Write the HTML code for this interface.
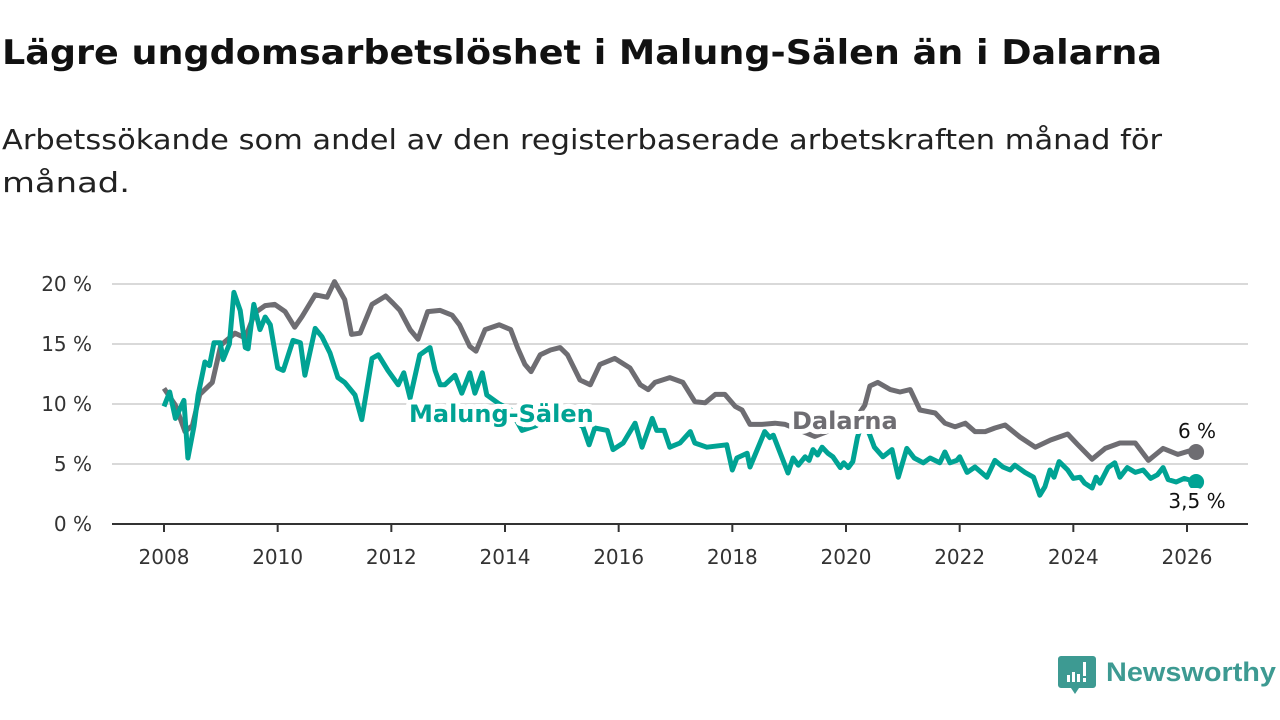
<!DOCTYPE html>
<html><head><meta charset="utf-8"><style>
html,body{margin:0;padding:0;background:#fff;}
svg{display:block;font-family:"DejaVu Sans","Liberation Sans",sans-serif;}
</style></head><body>
<svg id="chart" width="1280" height="720" viewBox="0 0 1280 720" xmlns="http://www.w3.org/2000/svg">
<text x="2" y="64" font-size="34" font-weight="bold" fill="#111" textLength="1160" lengthAdjust="spacingAndGlyphs">Lägre ungdomsarbetslöshet i Malung-Sälen än i Dalarna</text>
<text x="2" y="149" font-size="28" fill="#222" textLength="1160" lengthAdjust="spacingAndGlyphs">Arbetssökande som andel av den registerbaserade arbetskraften månad för</text>
<text x="2" y="192" font-size="28" fill="#222" textLength="128" lengthAdjust="spacingAndGlyphs">månad.</text>
<g id="grid"></g><g id="xaxis"></g><g id="lines"></g><g id="labels"></g>
<g>
<path d="M1061,656 h32 a3,3 0 0 1 3,3 v26 a3,3 0 0 1 -3,3 h-14 l-4,6 l-4,-6 h-10 a3,3 0 0 1 -3,-3 v-26 a3,3 0 0 1 3,-3z" fill="#3d9a92"/>
<rect x="1067" y="675" width="3" height="7" fill="#fff"/><rect x="1072" y="672" width="3" height="10" fill="#fff"/><rect x="1077" y="674" width="3" height="8" fill="#fff"/><rect x="1083" y="662" width="3" height="14" fill="#fff"/><rect x="1083" y="678" width="3" height="4" fill="#fff"/>
<text x="1106" y="681" font-size="27" font-weight="bold" fill="#3d9a92" font-family="Liberation Sans, sans-serif" textLength="170" lengthAdjust="spacingAndGlyphs">Newsworthy</text>
</g>
</svg>
<script>
const yTicks=[0,5,10,15,20];
const xTicks=[2008,2010,2012,2014,2016,2018,2020,2022,2024,2026];
const dalT=[2008.0,2008.2,2008.37,2008.5,2008.63,2008.85,2009.0,2009.25,2009.43,2009.6,2009.78,2009.95,2010.13,2010.3,2010.43,2010.66,2010.87,2011.0,2011.18,2011.3,2011.45,2011.66,2011.9,2012.03,2012.15,2012.33,2012.47,2012.64,2012.86,2013.07,2013.2,2013.38,2013.49,2013.65,2013.9,2014.1,2014.22,2014.35,2014.46,2014.62,2014.8,2014.97,2015.1,2015.32,2015.5,2015.67,2015.93,2016.2,2016.38,2016.52,2016.64,2016.9,2017.13,2017.34,2017.52,2017.7,2017.87,2018.05,2018.17,2018.31,2018.52,2018.75,2018.93,2019.19,2019.45,2019.72,2020.0,2020.16,2020.33,2020.42,2020.56,2020.78,2020.95,2021.13,2021.3,2021.57,2021.74,2021.92,2022.1,2022.27,2022.45,2022.62,2022.8,2023.06,2023.33,2023.6,2023.9,2024.08,2024.33,2024.56,2024.82,2025.09,2025.32,2025.58,2025.84,2026.05,2026.16];
const dalV=[11.3,9.9,7.7,8.2,10.8,11.8,14.9,15.9,15.5,17.6,18.2,18.3,17.7,16.4,17.3,19.1,18.9,20.2,18.7,15.8,15.9,18.3,19.0,18.4,17.8,16.2,15.4,17.7,17.8,17.4,16.6,14.8,14.4,16.2,16.6,16.2,14.7,13.3,12.7,14.1,14.5,14.7,14.1,12.0,11.6,13.3,13.8,13.0,11.6,11.2,11.8,12.2,11.8,10.2,10.1,10.8,10.8,9.8,9.5,8.3,8.3,8.4,8.3,7.8,7.3,7.8,8.0,8.7,9.9,11.5,11.8,11.2,11.0,11.2,9.5,9.25,8.4,8.1,8.4,7.7,7.7,8.0,8.25,7.25,6.4,7.0,7.5,6.6,5.4,6.3,6.75,6.75,5.3,6.3,5.8,6.1,6.0];
const malT=[2008.0,2008.1,2008.2,2008.35,2008.42,2008.53,2008.6,2008.72,2008.8,2008.88,2008.99,2009.04,2009.15,2009.23,2009.34,2009.43,2009.48,2009.58,2009.69,2009.78,2009.87,2010.0,2010.1,2010.27,2010.4,2010.48,2010.66,2010.78,2010.92,2011.06,2011.18,2011.36,2011.48,2011.66,2011.77,2011.94,2012.12,2012.22,2012.33,2012.5,2012.68,2012.77,2012.86,2012.94,2013.03,2013.12,2013.24,2013.38,2013.47,2013.6,2013.68,2013.9,2014.1,2014.3,2014.55,2014.8,2015.1,2015.37,2015.48,2015.58,2015.8,2015.9,2016.08,2016.29,2016.41,2016.59,2016.67,2016.8,2016.9,2017.08,2017.26,2017.34,2017.55,2017.9,2018.0,2018.08,2018.26,2018.31,2018.57,2018.66,2018.72,2018.98,2019.07,2019.16,2019.28,2019.35,2019.42,2019.5,2019.58,2019.68,2019.77,2019.9,2019.96,2020.04,2020.12,2020.2,2020.3,2020.42,2020.5,2020.65,2020.81,2020.92,2021.07,2021.2,2021.36,2021.48,2021.65,2021.74,2021.83,2021.95,2022.0,2022.13,2022.27,2022.48,2022.62,2022.76,2022.89,2022.97,2023.15,2023.3,2023.41,2023.5,2023.59,2023.66,2023.75,2023.9,2024.0,2024.12,2024.2,2024.33,2024.4,2024.47,2024.61,2024.73,2024.82,2024.95,2025.09,2025.23,2025.36,2025.48,2025.58,2025.67,2025.81,2025.95,2026.16];
const malV=[9.8,11.0,8.8,10.3,5.5,8.2,10.75,13.5,13.2,15.1,15.1,13.7,15.0,19.3,17.8,14.7,14.6,18.3,16.2,17.25,16.6,13.0,12.8,15.3,15.1,12.4,16.3,15.6,14.25,12.2,11.8,10.75,8.7,13.8,14.1,12.8,11.6,12.6,10.5,14.1,14.7,12.8,11.6,11.6,12.0,12.4,10.9,12.6,10.9,12.6,10.75,10.0,9.5,7.8,8.2,9.3,9.0,8.1,6.6,8.0,7.8,6.2,6.75,8.4,6.4,8.8,7.8,7.8,6.4,6.75,7.7,6.75,6.4,6.6,4.5,5.5,5.9,4.75,7.7,7.2,7.4,4.25,5.5,4.9,5.6,5.3,6.2,5.75,6.4,5.9,5.6,4.7,5.1,4.7,5.2,7.2,8.7,7.4,6.4,5.6,6.2,3.9,6.3,5.5,5.1,5.5,5.1,6.0,5.1,5.3,5.6,4.3,4.75,3.9,5.3,4.75,4.5,4.9,4.3,3.9,2.4,3.1,4.5,3.9,5.2,4.5,3.8,3.9,3.4,3.0,3.9,3.4,4.7,5.1,3.9,4.7,4.3,4.5,3.8,4.1,4.7,3.7,3.5,3.8,3.5];
const NS="http://www.w3.org/2000/svg";
const X0=164,X1=1187,Y0=524,YS=12;
function xs(t){return X0+(t-2008)*(X1-X0)/18;}
function ys(v){return Y0-v*YS;}
function mk(tag,attrs,parent){const e=document.createElementNS(NS,tag);for(const k in attrs)e.setAttribute(k,attrs[k]);parent.appendChild(e);return e;}
const grid=document.getElementById('grid');
yTicks.forEach(v=>{
  const l=mk('line',{x1:112,x2:1248,y1:ys(v),y2:ys(v),stroke:v===0?'#333':'#d9d9d9','stroke-width':2},grid);
  
  
  const t=mk('text',{x:92,y:ys(v)+7,'text-anchor':'end','font-size':20,fill:'#333'},grid);
  t.textContent=v+' %';
  
  
});
const xa=document.getElementById('xaxis');
xTicks.forEach(y=>{
  const l=mk('line',{x1:xs(y),x2:xs(y),y1:Y0,y2:Y0+8,stroke:'#333','stroke-width':2},xa);
  
  
  const t=mk('text',{x:xs(y),y:564,'text-anchor':'middle','font-size':20,fill:'#333'},xa);
  t.textContent=y;
  
  
});
const lg=document.getElementById('lines');
function path(T,V){return T.map((t,i)=>(i?'L':'M')+xs(t).toFixed(1)+','+ys(V[i]).toFixed(1)).join('');}
const pd=mk('path',{d:path(dalT,dalV),fill:'none',stroke:'#6e6d72','stroke-width':5,'stroke-linejoin':'round'},lg);


const pm=mk('path',{d:path(malT,malV),fill:'none',stroke:'#00a394','stroke-width':5,'stroke-linejoin':'round'},lg);


const dd=mk('circle',{cx:xs(dalT[dalT.length-1]),cy:ys(dalV[dalV.length-1]),r:8,fill:'#6e6d72'},lg);


const md=mk('circle',{cx:xs(malT[malT.length-1]),cy:ys(malV[malV.length-1]),r:8,fill:'#00a394'},lg);


const lb=document.getElementById('labels');
function lab(x,y,txt,fill,w,size,name,anchor){
  const t=mk('text',{x:x,y:y,'font-size':size,'font-weight':w,fill:fill,stroke:'#fff','stroke-width':10,'paint-order':'stroke','stroke-linejoin':'round','text-anchor':anchor||'start'},lb);
  t.textContent=txt;
  
  
}
lab(409,422,'Malung-Sälen','#00a394','bold',24,'malung-salen-label');
lab(792,429,'Dalarna','#6e6d72','bold',24,'dalarna-label');
lab(1197,438,'6 %','#111','normal',20,'dalarna-end-value','middle');
lab(1197,508,'3,5 %','#111','normal',20,'malung-salen-end-value','middle');
</script>
</body></html>
